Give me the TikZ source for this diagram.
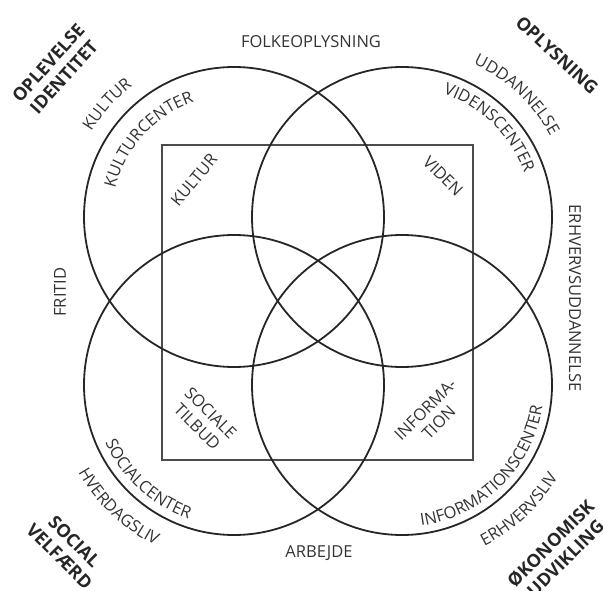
\documentclass[tikz,border=0pt]{standalone}
\usepackage{fontspec}
\setmainfont{Open Sans}
\usetikzlibrary{decorations.text}
\newcommand{\lblf}{\fontsize{16.5}{19}\selectfont}
\begin{document}
\begin{tikzpicture}[x=1pt,y=-1pt,
  ring/.style={draw=black!85,line width=1.8pt,circle,minimum size=300pt,inner sep=0pt},
  box/.style={draw=black!70,line width=1.3pt},
  lbl/.style={font=\lblf,text=black!80,inner sep=0pt},
  big/.style={font=\fontsize{18}{21}\selectfont\bfseries,text=black!85,inner sep=0pt,align=center},
  arclbl/.style={decorate,decoration={text along path,text align=center,text color=black!80,text={|\lblf|#1}}}]
\useasboundingbox (0,0) rectangle (603,591);
% square
\draw[box] (162,145) rectangle (473,460);
% circles
\node[ring] (ctl) at (234,217) {};
\node[ring] (ctr) at (402,217) {};
\node[ring] (cbl) at (234,385) {};
\node[ring] (cbr) at (402,385) {};
% outer labels
\node[lbl] (folk) at (311,42) {FOLKEOPLYSNING};
\node[lbl] (arb) at (319,553) {ARBEJDE};
\node[lbl,rotate=90] (frit) at (60,292) {FRITID};
\node[lbl,rotate=-90] (erhu) at (575,298) {ERHVERVSUDDANNELSE};
% top-left
\node[big,rotate=48] (opl) at (56,70) {OPLEVELSE\\IDENTITET};
\path[arclbl={KULTUR}] (ctl.center) ++(-178.4:166) arc[start angle=-178.4,end angle=-98.4,radius=166];
\path[arclbl={KULTURCENTER}] (ctl.center) ++(-197.8:122) arc[start angle=-197.8,end angle=-77.8,radius=122];
\node[lbl,rotate=50] (kult2) at (194,180) {KULTUR};
% top-right
\node[big,rotate=-43] (oplys) at (557,55) {OPLYSNING};
\path[arclbl={UDDANNELSE}] (ctr.center) ++(-96.8:169) arc[start angle=-96.8,end angle=3.2,radius=169];
\path[arclbl={VIDENSCENTER}] (ctr.center) ++(-105.7:130) arc[start angle=-105.7,end angle=14.3,radius=130];
\node[lbl,rotate=-45] (vid) at (443,176) {VIDEN};
% bottom-left
\node[lbl,rotate=-45,align=center] (soc) at (204,420) {SOCIALE\\TILBUD};
\path[arclbl={SOCIALCENTER}] (cbl.center) ++(192.4:141) arc[start angle=192.4,end angle=72.4,radius=141];
\path[arclbl={HVERDAGSLIV}] (cbl.center) ++(183.4:178.6) arc[start angle=183.4,end angle=83.4,radius=178.6];
\node[big,rotate=-45] (velf) at (67,549) {SOCIAL\\VELFÆRD};
% bottom-right
\node[lbl,rotate=45,align=center] (info) at (432,416) {INFORMA-\\TION};
\path[arclbl={INFORMATIONSCENTER}] (cbr.center) ++(115.4:142) arc[start angle=115.4,end angle=-24.6,radius=142];
\path[arclbl={ERHVERVSLIV}] (cbr.center) ++(96.7:181) arc[start angle=96.7,end angle=-3.3,radius=181];
\node[big,rotate=45] (okon) at (558,551) {ØKONOMISK\\UDVIKLING};
\end{tikzpicture}
\end{document}
